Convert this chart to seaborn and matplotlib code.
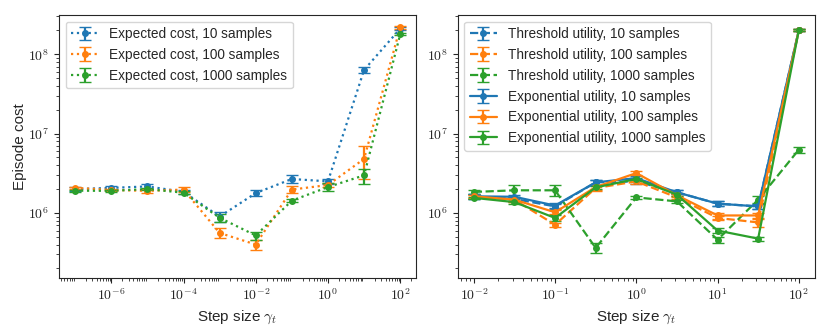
import numpy as np
import matplotlib
matplotlib.use('Agg')
import matplotlib.pyplot as plt
import seaborn as sns
from matplotlib.ticker import FuncFormatter, LogLocator, NullFormatter

# left panel: expected cost objective
gamma_left = [1e-7, 1e-6, 1e-5, 1e-4, 1e-3, 1e-2, 1e-1, 1e0, 1e1, 1e2]
exp_10 = [2.0e6, 2.07e6, 2.16e6, 1.85e6, 0.9e6, 1.78e6, 2.68e6, 2.5e6, 6.35e7, 2.1e8]
exp_10_err = [0.1e6, 0.12e6, 0.15e6, 0.1e6, 0.12e6, 0.15e6, 0.3e6, 0.2e6, 0.6e7, 0.1e8]
exp_100 = [2.07e6, 1.95e6, 1.9e6, 1.97e6, 5.6e5, 4.0e5, 1.97e6, 2.25e6, 4.8e6, 2.18e8]
exp_100_err = [0.08e6, 0.08e6, 0.1e6, 0.15e6, 0.08e6, 0.06e6, 0.2e6, 0.15e6, 2.1e6, 0.1e8]
exp_1000 = [1.91e6, 1.9e6, 2.0e6, 1.8e6, 8.7e5, 5.2e5, 1.43e6, 2.12e6, 2.98e6, 1.78e8]
exp_1000_err = [0.06e6, 0.06e6, 0.08e6, 0.08e6, 0.1e6, 0.06e6, 0.05e6, 0.25e6, 0.65e6, 0.05e8]

# right panel: utility objectives
gamma_right = [0.01, 0.0316, 0.1, 0.316, 1.0, 3.16, 10.0, 31.6, 100.0]
thr_10 = [1.62e6, 1.5e6, 1.21e6, 2.43e6, 2.5e6, 1.82e6, 1.31e6, 1.21e6, 2.0e8]
thr_10_err = [0.1e6, 0.08e6, 0.08e6, 0.2e6, 0.15e6, 0.1e6, 0.1e6, 0.08e6, 0.06e8]
thr_100 = [1.62e6, 1.47e6, 7.1e5, 2.06e6, 2.5e6, 1.57e6, 8.65e5, 7.6e5, 2.0e8]
thr_100_err = [0.08e6, 0.08e6, 0.04e6, 0.15e6, 0.15e6, 0.08e6, 0.05e6, 0.1e6, 0.06e8]
thr_1000 = [1.84e6, 1.93e6, 1.93e6, 3.63e5, 1.57e6, 1.4e6, 4.6e5, 1.47e6, 6.27e6]
thr_1000_err = [0.12e6, 0.35e6, 0.3e6, 0.05e6, 0.05e6, 0.05e6, 0.04e6, 0.15e6, 0.6e6]
util_10 = [1.62e6, 1.6e6, 1.24e6, 2.43e6, 2.75e6, 1.82e6, 1.31e6, 1.21e6, 2.0e8]
util_10_err = [0.1e6, 0.1e6, 0.08e6, 0.2e6, 0.2e6, 0.1e6, 0.1e6, 0.08e6, 0.06e8]
util_100 = [1.62e6, 1.47e6, 1.02e6, 2.12e6, 3.18e6, 1.67e6, 9.3e5, 9.3e5, 2.0e8]
util_100_err = [0.08e6, 0.08e6, 0.06e6, 0.15e6, 0.2e6, 0.08e6, 0.08e6, 0.08e6, 0.06e8]
util_1000 = [1.55e6, 1.37e6, 8.65e5, 2.1e6, 2.68e6, 1.7e6, 6.0e5, 4.75e5, 2.0e8]
util_1000_err = [0.06e6, 0.06e6, 0.08e6, 0.1e6, 0.1e6, 0.06e6, 0.04e6, 0.03e6, 0.06e8]

# tick positions
xticks_left = [1e-6, 1e-4, 1e-2, 1e0, 1e2]
xticks_right = [1e-2, 1e-1, 1e0, 1e1, 1e2]
yticks = [1e6, 1e7, 1e8]

sns.set_style('ticks')
plt.rcParams['font.family'] = ['Liberation Sans', 'DejaVu Sans']
plt.rcParams['mathtext.fontset'] = 'cm'
colors = sns.color_palette('tab10')

fig, (ax1, ax2) = plt.subplots(1, 2, figsize=(8.3, 3.32), dpi=100)
fig.subplots_adjust(left=0.071, right=0.982, bottom=0.163, top=0.955, wspace=0.115)

left_series = [(exp_10, exp_10_err, 'Expected cost, 10 samples'),
               (exp_100, exp_100_err, 'Expected cost, 100 samples'),
               (exp_1000, exp_1000_err, 'Expected cost, 1000 samples')]
for i, (y, e, lab) in enumerate(left_series):
    ax1.errorbar(gamma_left, y, yerr=e, ls=':', lw=1.6, marker='o', ms=4,
                 capsize=4.5, color=colors[i], label=lab)

right_series = [(thr_10, thr_10_err, 'Threshold utility, 10 samples', '--'),
                (thr_100, thr_100_err, 'Threshold utility, 100 samples', '--'),
                (thr_1000, thr_1000_err, 'Threshold utility, 1000 samples', '--'),
                (util_10, util_10_err, 'Exponential utility, 10 samples', '-'),
                (util_100, util_100_err, 'Exponential utility, 100 samples', '-'),
                (util_1000, util_1000_err, 'Exponential utility, 1000 samples', '-')]
for i, (y, e, lab, ls) in enumerate(right_series):
    ax2.errorbar(gamma_right, y, yerr=e, ls=ls, lw=1.6, marker='o', ms=4,
                 capsize=4.5, color=colors[i % 3], label=lab)

pow_fmt = FuncFormatter(lambda v, p: r'$10^{%d}$' % int(round(np.log10(v))))
for ax, xt in ((ax1, xticks_left), (ax2, xticks_right)):
    ax.set_xscale('log')
    ax.set_yscale('log')
    ax.set_xticks(xt)
    ax.set_yticks(yticks)
    for axis in (ax.xaxis, ax.yaxis):
        axis.set_major_formatter(pow_fmt)
        axis.set_minor_locator(LogLocator(base=10, subs=np.arange(2, 10), numticks=100))
        axis.set_minor_formatter(NullFormatter())
    ax.set_ylim(1.52e5, 3.13e8)
    ax.tick_params(labelsize=10)
    ax.set_xlabel(r'Step size $\gamma_t$', fontsize=11)
    ax.legend(loc='upper left', fontsize=9.8)

ax1.set_xlim(10 ** -7.45, 10 ** 2.45)
ax2.set_xlim(10 ** -2.2, 10 ** 2.2)
ax1.set_ylabel('Episode cost', fontsize=11)
ax1.yaxis.set_label_coords(-0.09, 0.5)

fig.savefig('out.png')
